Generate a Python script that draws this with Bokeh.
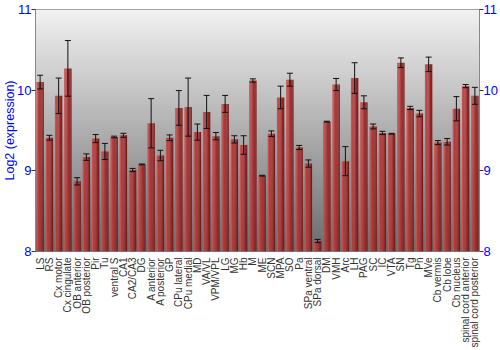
import numpy as np
from bokeh.plotting import figure
from bokeh.models import (FactorRange, Range1d, Whisker, TeeHead, ColumnDataSource,
                          LinearAxis, FixedTicker)
from bokeh.transform import dodge
from bokeh.embed import file_html
from bokeh.resources import INLINE

cats = ["LS", "RS", "Cx motor", "Cx cingulate", "OB anterior", "OB posterior", "Pir", "Tu",
        "ventral S", "CA1", "CA2/CA3", "DG", "A anterior", "A posterior", "GP", "CPu lateral",
        "CPu medial", "MD", "VA/VL", "VPM/VPL", "LG", "MG", "Hb", "M", "ME", "SCN", "MPA", "SO",
        "Pa", "SPa ventral", "SPa dorsal", "DM", "VMH", "Arc", "LH", "PAG", "SC", "IC", "VTA",
        "SN", "Tg", "Pn", "MVe", "Cb vermis", "Cb lobe", "Cb nucleus", "spinal cord anterior",
        "spinal cord posterior"]
values = [10.10, 9.41, 9.93, 10.27, 8.87, 9.17, 9.40, 9.24,
          9.42, 9.44, 9.01, 9.08, 9.59, 9.19, 9.41, 9.78,
          9.79, 9.48, 9.73, 9.43, 9.83, 9.39, 9.32, 10.12, 8.94, 9.46, 9.91, 10.13,
          9.29, 9.09, 8.13, 9.61, 10.07, 9.12, 10.15, 9.85, 9.55, 9.47, 9.46,
          10.34, 9.78, 9.71, 10.32, 9.35, 9.36, 9.77, 10.05,
          9.93]
errors = [0.085, 0.03, 0.22, 0.345, 0.045, 0.04, 0.05, 0.10,
          0.01, 0.025, 0.02, 0.005, 0.305, 0.065, 0.035, 0.215,
          0.36, 0.10, 0.205, 0.045, 0.105, 0.045, 0.115, 0.02, 0.005, 0.035, 0.14, 0.08,
          0.025, 0.045, 0.02, 0.005, 0.075, 0.18, 0.19, 0.08, 0.03, 0.02, 0.005,
          0.06, 0.02, 0.04, 0.09, 0.025, 0.04, 0.15, 0.02,
          0.105]
y_ticks = [8, 9, 10, 11]
grid_ticks = [9, 10]
y_label = "Log2 (expression)"

src = ColumnDataSource(dict(
    cat=cats, val=values,
    upper=[v + e for v, e in zip(values, errors)],
    lower=[v - e for v, e in zip(values, errors)],
))

p = figure(x_range=FactorRange(*cats), y_range=Range1d(8, 11),
           width=500, height=350, output_backend="svg", toolbar_location=None,
           min_border_left=0, min_border_right=0, min_border_top=9, min_border_bottom=0)
p.background_fill_color = "white"
p.border_fill_color = "white"
p.outline_line_color = "#888888"

# vertical gradient background
n = 120
top = np.array([242, 242, 242], dtype=float)
bot = np.array([108, 108, 108], dtype=float)
img = np.zeros((n, 1), dtype=np.uint32)
view = img.view(dtype=np.uint8).reshape((n, 1, 4))
for i in range(n):
    t = i / (n - 1)  # 0 bottom -> 1 top
    c = bot + (top - bot) * t
    view[i, 0, 0] = int(c[0]); view[i, 0, 1] = int(c[1]); view[i, 0, 2] = int(c[2]); view[i, 0, 3] = 255
p.image_rgba(image=[img], x=0, y=8, dw=len(cats), dh=3)

# bars with shading strips
w = 0.8
strip_cols = ["#c85252", "#b93a3a", "#b23535", "#a52e2e", "#922626", "#741b1b"]
sw = w / len(strip_cols)
for k, col in enumerate(strip_cols):
    off = -w / 2 + sw * (k + 0.5)
    p.vbar(x=dodge("cat", off, range=p.x_range), top="val", bottom=8, width=sw * 1.02,
           source=src, fill_color=col, line_color=None)

wh = Whisker(source=src, base="cat", upper="upper", lower="lower",
             line_color="#111111", line_width=1, level="overlay",
             upper_head=TeeHead(size=6, line_color="#111111", line_width=1),
             lower_head=TeeHead(size=6, line_color="#111111", line_width=1))
p.add_layout(wh)

p.xgrid.visible = False
p.ygrid.ticker = FixedTicker(ticks=grid_ticks)
p.ygrid.grid_line_color = "white"
p.ygrid.grid_line_width = 1.5
p.ygrid.grid_line_alpha = 0.8
p.ygrid.level = "image"

p.yaxis[0].ticker = FixedTicker(ticks=y_ticks)
ra = LinearAxis(ticker=FixedTicker(ticks=y_ticks))
p.add_layout(ra, "right")
for ax in [p.yaxis[0], ra]:
    ax.major_label_text_color = "#0000ff"
    ax.major_label_text_font = "Liberation Sans"
    ax.major_label_text_font_size = "13px"
    ax.axis_line_color = "#888888"
    ax.major_tick_line_color = "#333333"
    ax.major_tick_out = 4
    ax.major_tick_in = 0
    ax.minor_tick_line_color = None
    ax.major_label_standoff = 0
p.yaxis[0].axis_label = y_label
p.yaxis[0].axis_label_text_color = "#0000ff"
p.yaxis[0].axis_label_text_font = "Liberation Sans"
p.yaxis[0].axis_label_text_font_style = "normal"
p.yaxis[0].axis_label_text_font_size = "12.5px"
p.yaxis[0].axis_label_standoff = -3

xa = p.xaxis[0]
xa.major_label_orientation = np.pi / 2
xa.major_label_text_font = "Liberation Sans"
xa.major_label_text_font_size = "10px"
xa.major_label_text_color = "#333333"
xa.major_tick_line_color = None
xa.axis_line_color = None
xa.major_label_standoff = 0

open("out.html", "w").write(file_html(p, INLINE))
